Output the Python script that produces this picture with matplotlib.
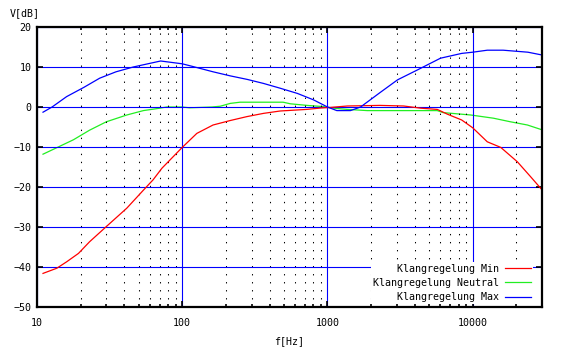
import matplotlib
matplotlib.use('Agg')
import matplotlib.pyplot as plt
from matplotlib.ticker import FixedLocator, FixedFormatter, NullFormatter

# frequency response readings (Hz, dB)
f_max = [11, 12.7, 16, 21, 27, 35, 46, 71, 100, 119, 163, 213, 280, 362, 472,
         620, 800, 1000, 1160, 1440, 1690, 2300, 3040, 4180, 6000, 8400,
         10000, 12600, 16200, 24000, 30000]
v_max = [-1.3, 0.0, 2.6, 4.9, 7.2, 8.8, 10.0, 11.5, 10.8, 10.1, 8.8, 7.8, 6.9,
         5.9, 4.7, 3.4, 1.8, 0.0, -0.9, -0.9, 0.0, 3.6, 6.8, 9.3, 12.2, 13.4,
         13.7, 14.2, 14.2, 13.7, 13.0]

f_neu = [11, 14, 17.8, 23, 30, 41.5, 54, 70, 78, 100, 112, 160, 183, 214,
         250, 495, 555, 725, 935, 1100, 1370, 1880, 2300, 5700, 6250, 9700,
         13900, 18200, 23800, 30000]
v_neu = [-11.8, -10.0, -8.2, -5.8, -3.7, -2.0, -0.9, -0.3, 0.0, 0.0, -0.2,
         0.0, 0.2, 0.9, 1.2, 1.2, 0.8, 0.4, 0.1, -0.3, -0.6, -0.9, -0.9,
         -0.9, -1.4, -2.0, -2.8, -3.7, -4.5, -5.7]

f_min = [11, 13.7, 16, 19.3, 23, 30, 41.5, 54, 63, 72.5, 100, 126, 163, 213,
         279, 362, 472, 720, 900, 1050, 1370, 2300, 3350, 4400, 5700, 6700,
         8400, 10000, 12600, 15600, 20300, 25000, 30000]
v_min = [-41.6, -40.3, -38.7, -36.6, -33.7, -29.9, -25.3, -20.8, -18.2, -15.3,
         -10.1, -6.6, -4.5, -3.4, -2.4, -1.6, -1.0, -0.6, -0.25, -0.1, 0.25,
         0.4, 0.25, -0.3, -0.6, -1.8, -3.25, -5.2, -8.7, -10.1, -13.7, -17.4,
         -20.7]

x_major = [10, 100, 1000, 10000]
x_labels = ['10', '100', '1000', '10000']
x_minor = [20, 30, 40, 50, 60, 70, 80, 90,
           200, 300, 400, 500, 600, 700, 800, 900,
           2000, 3000, 4000, 5000, 6000, 7000, 8000, 9000, 20000]
y_ticks = [20, 10, 0, -10, -20, -30, -40, -50]

FONT = 'DejaVu Sans Mono'
FS = 7.2

fig = plt.figure(figsize=(5.65, 3.5), dpi=100)
ax = fig.add_axes([37 / 565, 1 - 307 / 350, 505 / 565, 280 / 350])
ax.set_xscale('log')
ax.set_xlim(10, 30000)
ax.set_ylim(-50, 20)

ax.xaxis.set_major_locator(FixedLocator(x_major))
ax.xaxis.set_major_formatter(FixedFormatter(x_labels))
ax.xaxis.set_minor_locator(FixedLocator(x_minor))
ax.xaxis.set_minor_formatter(NullFormatter())
ax.set_yticks(y_ticks)

ax.grid(which='major', color='blue', linewidth=0.8)
ax.grid(which='minor', axis='x', color='black', linewidth=0.75,
        linestyle=(0, (1.3, 6.4)))
ax.set_axisbelow(True)

ax.plot(f_min, v_min, color='#ff0000', linewidth=0.9, label='    Klangregelung Min', zorder=3)
# neutral curve sits under the 0 dB grid line, as in the original
ax.plot(f_neu, v_neu, color='#22ee22', linewidth=0.9, label='Klangregelung Neutral', zorder=0.4)
ax.plot(f_max, v_max, color='#0000ff', linewidth=0.9, label='    Klangregelung Max', zorder=3)

for side in ax.spines.values():
    side.set_linewidth(1.6)
    side.set_zorder(6)

ax.tick_params(which='both', direction='in', top=True, right=True,
               colors='black', labelsize=FS, width=1.2)
ax.tick_params(which='major', length=4, pad=4)
ax.tick_params(which='minor', length=2.5)
ax.tick_params(axis='x', which='major', pad=8)
for lab in ax.get_xticklabels() + ax.get_yticklabels():
    lab.set_family(FONT)

ax.set_xlabel('f[Hz]', fontsize=FS, family=FONT, labelpad=6)
fig.text(10 / 565, 1 - 13 / 350, 'V[dB]', fontsize=FS, family=FONT,
         ha='left', va='center')

leg = ax.legend(loc='lower right', bbox_to_anchor=(1 - 9 / 505, 3 / 280),
                markerfirst=False, frameon=True, fancybox=False,
                borderpad=0.2, borderaxespad=0, handlelength=2.6,
                handletextpad=0.6, labelspacing=0.42,
                prop={'family': FONT, 'size': FS})
leg.get_frame().set_edgecolor('none')
leg.get_frame().set_facecolor('white')
leg.get_frame().set_alpha(1)
leg.set_zorder(5)

fig.savefig('out.png', dpi=100)
